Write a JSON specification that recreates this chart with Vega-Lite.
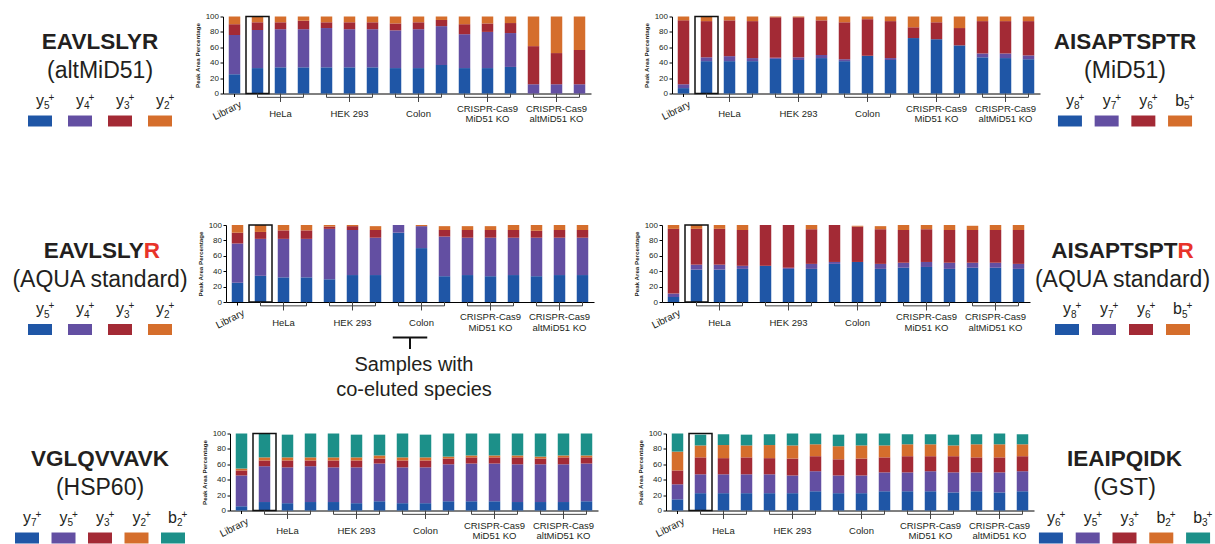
{
"$schema": "https://vega.github.io/schema/vega-lite/v6.json",
"padding": {"top": 12.5, "left": 0, "right": 0, "bottom": 0},
"background": "white",
"config": {"font": "Liberation Sans", "view": {"stroke": null},
  "axis": {"labelFont": "Liberation Sans", "titleFont": "Liberation Sans", "labelColor": "#231F20", "titleColor": "#231F20", "domainColor": "#000", "tickColor": "#000"},
  "axisY": {"tickCount": 10, "labelExpr": "datum.value % 20 === 0 ? datum.label : ''", "labelOverlap": false, "labelFontSize": 8, "labelPadding": 1.5, "tickSize": 3, "titleFontSize": 6.2, "titleFontWeight": "bold", "titlePadding": 5, "grid": false},
  "axisX": {"labels": false, "tickSize": 3},
  "text": {"color": "#231F20"}},
"datasets": {
 "groups": [
  {"a": "HeLa 1", "m": "HeLa 2", "b": "HeLa 3", "t": "HeLa"},
  {"a": "HEK 1", "m": "HEK 2", "b": "HEK 3", "t": "HEK 293"},
  {"a": "Colon 1", "m": "Colon 2", "b": "Colon 3", "t": "Colon"},
  {"a": "MiD51 KO 1", "m": "MiD51 KO 2", "b": "MiD51 KO 3", "t": "CRISPR-Cas9\nMiD51 KO"},
  {"a": "altMiD51 KO 1", "m": "altMiD51 KO 2", "b": "altMiD51 KO 3", "t": "CRISPR-Cas9\naltMiD51 KO"}],
 "lA": [{"k": "p1", "b": "y", "n": "5"}, {"k": "p2", "b": "y", "n": "4"}, {"k": "p3", "b": "y", "n": "3"}, {"k": "p4", "b": "y", "n": "2"}],
 "lB": [{"k": "p1", "b": "y", "n": "8"}, {"k": "p2", "b": "y", "n": "7"}, {"k": "p3", "b": "y", "n": "6"}, {"k": "p4", "b": "b", "n": "5"}],
 "lC": [{"k": "p1", "b": "y", "n": "7"}, {"k": "p2", "b": "y", "n": "5"}, {"k": "p3", "b": "y", "n": "3"}, {"k": "p4", "b": "y", "n": "2"}, {"k": "p5", "b": "b", "n": "2"}],
 "lD": [{"k": "p1", "b": "y", "n": "6"}, {"k": "p2", "b": "y", "n": "5"}, {"k": "p3", "b": "y", "n": "3"}, {"k": "p4", "b": "b", "n": "2"}, {"k": "p5", "b": "b", "n": "3"}],
 "c1": [
  {"s": "Library", "p1": 25, "p2": 51, "p3": 14, "p4": 10},
  {"s": "HeLa 1", "p1": 33, "p2": 49.5, "p3": 10, "p4": 7.5},
  {"s": "HeLa 2", "p1": 34, "p2": 49.5, "p3": 9, "p4": 7.5},
  {"s": "HeLa 3", "p1": 34, "p2": 49.5, "p3": 11, "p4": 5.5},
  {"s": "HEK 1", "p1": 34, "p2": 51, "p3": 7.5, "p4": 7.5},
  {"s": "HEK 2", "p1": 34, "p2": 49.5, "p3": 9, "p4": 7.5},
  {"s": "HEK 3", "p1": 34, "p2": 49.5, "p3": 9, "p4": 7.5},
  {"s": "Colon 1", "p1": 33, "p2": 49, "p3": 9, "p4": 9},
  {"s": "Colon 2", "p1": 33, "p2": 50.5, "p3": 9, "p4": 7.5},
  {"s": "Colon 3", "p1": 37, "p2": 50.5, "p3": 8, "p4": 4.5},
  {"s": "MiD51 KO 1", "p1": 33, "p2": 44, "p3": 13, "p4": 10},
  {"s": "MiD51 KO 2", "p1": 33, "p2": 47, "p3": 11, "p4": 9},
  {"s": "MiD51 KO 3", "p1": 34.5, "p2": 44, "p3": 13, "p4": 8.5},
  {"s": "altMiD51 KO 1", "p1": 0, "p2": 12, "p3": 49.5, "p4": 38.5},
  {"s": "altMiD51 KO 2", "p1": 0, "p2": 12, "p3": 40.5, "p4": 47.5},
  {"s": "altMiD51 KO 3", "p1": 0, "p2": 12, "p3": 44.5, "p4": 43.5}],
 "c2": [
  {"s": "Library", "p1": 7, "p2": 5, "p3": 83, "p4": 5},
  {"s": "HeLa 1", "p1": 42, "p2": 5, "p3": 47, "p4": 6},
  {"s": "HeLa 2", "p1": 42, "p2": 6.5, "p3": 46.5, "p4": 5},
  {"s": "HeLa 3", "p1": 42, "p2": 4, "p3": 48, "p4": 6},
  {"s": "HEK 1", "p1": 45, "p2": 1.5, "p3": 52.5, "p4": 1},
  {"s": "HEK 2", "p1": 43.5, "p2": 3.5, "p3": 52, "p4": 1},
  {"s": "HEK 3", "p1": 46, "p2": 4, "p3": 45, "p4": 5},
  {"s": "Colon 1", "p1": 42, "p2": 2.5, "p3": 48, "p4": 7.5},
  {"s": "Colon 2", "p1": 49, "p2": 0, "p3": 47.5, "p4": 3.5},
  {"s": "Colon 3", "p1": 43.5, "p2": 2.5, "p3": 48, "p4": 6},
  {"s": "MiD51 KO 1", "p1": 72, "p2": 0, "p3": 14, "p4": 14},
  {"s": "MiD51 KO 2", "p1": 70.5, "p2": 0, "p3": 22, "p4": 7.5},
  {"s": "MiD51 KO 3", "p1": 62.5, "p2": 0, "p3": 22.5, "p4": 15},
  {"s": "altMiD51 KO 1", "p1": 47, "p2": 5, "p3": 42, "p4": 6},
  {"s": "altMiD51 KO 2", "p1": 46, "p2": 6, "p3": 42, "p4": 6},
  {"s": "altMiD51 KO 3", "p1": 44.5, "p2": 5, "p3": 44.5, "p4": 6}],
 "c3": [
  {"s": "Library", "p1": 25, "p2": 51, "p3": 14, "p4": 10},
  {"s": "HeLa 1", "p1": 34, "p2": 48, "p3": 9, "p4": 9},
  {"s": "HeLa 2", "p1": 32, "p2": 50, "p3": 11, "p4": 7},
  {"s": "HeLa 3", "p1": 32, "p2": 50, "p3": 11, "p4": 7},
  {"s": "HEK 1", "p1": 29.5, "p2": 65.5, "p3": 3, "p4": 2},
  {"s": "HEK 2", "p1": 35, "p2": 58.5, "p3": 5, "p4": 1.5},
  {"s": "HEK 3", "p1": 35, "p2": 48.5, "p3": 10, "p4": 5},
  {"s": "Colon 1", "p1": 90, "p2": 10, "p3": 0, "p4": 0},
  {"s": "Colon 2", "p1": 70, "p2": 28.5, "p3": 0, "p4": 1.5},
  {"s": "Colon 3", "p1": 33.5, "p2": 51.5, "p3": 8.5, "p4": 5},
  {"s": "MiD51 KO 1", "p1": 35, "p2": 48.5, "p3": 10, "p4": 5},
  {"s": "MiD51 KO 2", "p1": 33.5, "p2": 50, "p3": 10, "p4": 5},
  {"s": "MiD51 KO 3", "p1": 35, "p2": 48.5, "p3": 10, "p4": 6.5},
  {"s": "altMiD51 KO 1", "p1": 33.5, "p2": 50, "p3": 9, "p4": 7.5},
  {"s": "altMiD51 KO 2", "p1": 35, "p2": 48.5, "p3": 10, "p4": 6.5},
  {"s": "altMiD51 KO 3", "p1": 35, "p2": 48.5, "p3": 10, "p4": 6.5}],
 "c4": [
  {"s": "Library", "p1": 6.5, "p2": 4.5, "p3": 84, "p4": 5},
  {"s": "HeLa 1", "p1": 42, "p2": 6.5, "p3": 46.5, "p4": 5},
  {"s": "HeLa 2", "p1": 42, "p2": 6.5, "p3": 46.5, "p4": 5},
  {"s": "HeLa 3", "p1": 43, "p2": 4, "p3": 46.5, "p4": 6.5},
  {"s": "HEK 1", "p1": 47, "p2": 0, "p3": 53, "p4": 0},
  {"s": "HEK 2", "p1": 43, "p2": 1.5, "p3": 55.5, "p4": 0},
  {"s": "HEK 3", "p1": 43, "p2": 6.5, "p3": 45, "p4": 5.5},
  {"s": "Colon 1", "p1": 49.5, "p2": 2.5, "p3": 48, "p4": 0},
  {"s": "Colon 2", "p1": 52, "p2": 0, "p3": 46, "p4": 1},
  {"s": "Colon 3", "p1": 43, "p2": 6.5, "p3": 45, "p4": 4},
  {"s": "MiD51 KO 1", "p1": 44.5, "p2": 6.5, "p3": 42.5, "p4": 6.5},
  {"s": "MiD51 KO 2", "p1": 45.5, "p2": 6.5, "p3": 42.5, "p4": 5.5},
  {"s": "MiD51 KO 3", "p1": 43, "p2": 8, "p3": 42.5, "p4": 6.5},
  {"s": "altMiD51 KO 1", "p1": 44.5, "p2": 6.5, "p3": 42.5, "p4": 5.5},
  {"s": "altMiD51 KO 2", "p1": 44.5, "p2": 6.5, "p3": 42.5, "p4": 6.5},
  {"s": "altMiD51 KO 3", "p1": 43, "p2": 6.5, "p3": 44, "p4": 6.5}],
 "c5": [
  {"s": "Library", "p1": 5.5, "p2": 40, "p3": 6.5, "p4": 2.5, "p5": 45.5},
  {"s": "HeLa 1", "p1": 11, "p2": 46.5, "p3": 7.5, "p4": 4, "p5": 31},
  {"s": "HeLa 2", "p1": 9.5, "p2": 46.5, "p3": 9, "p4": 4, "p5": 29.5},
  {"s": "HeLa 3", "p1": 11, "p2": 46.5, "p3": 7.5, "p4": 4, "p5": 31},
  {"s": "HEK 1", "p1": 11, "p2": 45, "p3": 9, "p4": 4, "p5": 31},
  {"s": "HEK 2", "p1": 9.5, "p2": 46.5, "p3": 9, "p4": 4, "p5": 29.5},
  {"s": "HEK 3", "p1": 12, "p2": 49, "p3": 6.5, "p4": 4, "p5": 27},
  {"s": "Colon 1", "p1": 9.5, "p2": 46.5, "p3": 9, "p4": 4, "p5": 31},
  {"s": "Colon 2", "p1": 9.5, "p2": 46.5, "p3": 9, "p4": 4, "p5": 29.5},
  {"s": "Colon 3", "p1": 12, "p2": 48, "p3": 7.5, "p4": 2.5, "p5": 30},
  {"s": "MiD51 KO 1", "p1": 12, "p2": 49, "p3": 8, "p4": 2.5, "p5": 28.5},
  {"s": "MiD51 KO 2", "p1": 12, "p2": 49, "p3": 8, "p4": 2.5, "p5": 28.5},
  {"s": "MiD51 KO 3", "p1": 11, "p2": 49, "p3": 9, "p4": 2.5, "p5": 28.5},
  {"s": "altMiD51 KO 1", "p1": 11, "p2": 49, "p3": 7.5, "p4": 2.5, "p5": 30},
  {"s": "altMiD51 KO 2", "p1": 11, "p2": 49, "p3": 9, "p4": 2.5, "p5": 28.5},
  {"s": "altMiD51 KO 3", "p1": 12, "p2": 49, "p3": 8, "p4": 2.5, "p5": 28.5}],
 "c6": [
  {"s": "Library", "p1": 14.5, "p2": 19.5, "p3": 18, "p4": 24.5, "p5": 23.5},
  {"s": "HeLa 1", "p1": 22.5, "p2": 24.5, "p3": 22, "p4": 15.5, "p5": 14},
  {"s": "HeLa 2", "p1": 22.5, "p2": 24.5, "p3": 21, "p4": 17, "p5": 14},
  {"s": "HeLa 3", "p1": 22.5, "p2": 24.5, "p3": 22, "p4": 15.5, "p5": 14},
  {"s": "HEK 1", "p1": 22.5, "p2": 24.5, "p3": 21, "p4": 17, "p5": 14},
  {"s": "HEK 2", "p1": 22.5, "p2": 23, "p3": 22, "p4": 17, "p5": 15.5},
  {"s": "HEK 3", "p1": 25, "p2": 26, "p3": 19.5, "p4": 15.5, "p5": 14},
  {"s": "Colon 1", "p1": 22.5, "p2": 23, "p3": 21, "p4": 17, "p5": 15},
  {"s": "Colon 2", "p1": 22.5, "p2": 23, "p3": 22, "p4": 17, "p5": 15.5},
  {"s": "Colon 3", "p1": 25, "p2": 24.5, "p3": 19.5, "p4": 15.5, "p5": 15.5},
  {"s": "MiD51 KO 1", "p1": 25, "p2": 24.5, "p3": 21, "p4": 15.5, "p5": 13},
  {"s": "MiD51 KO 2", "p1": 25, "p2": 26, "p3": 19.5, "p4": 15.5, "p5": 13},
  {"s": "MiD51 KO 3", "p1": 23.5, "p2": 26, "p3": 21, "p4": 14, "p5": 14},
  {"s": "altMiD51 KO 1", "p1": 25, "p2": 24.5, "p3": 19.5, "p4": 17, "p5": 13},
  {"s": "altMiD51 KO 2", "p1": 23.5, "p2": 26, "p3": 19.5, "p4": 17, "p5": 14},
  {"s": "altMiD51 KO 3", "p1": 25, "p2": 26, "p3": 19.5, "p4": 15.5, "p5": 13}]
},
"bounds": "flush",
"spacing": 208.5,
"vconcat": [
 {"hconcat": [
  {"width": 200, "height": 77, "layer": [
   {"data": {"values": [{"t": "EAVLSLYR"}]}, "mark": {"type": "text", "fontSize": 22.5, "fontWeight": "bold", "baseline": "middle", "dy": -13}, "encoding": {"text": {"field": "t"}}},
   {"data": {"values": [{"t": "(altMiD51)"}]}, "mark": {"type": "text", "fontSize": 23, "baseline": "middle", "dy": 16}, "encoding": {"text": {"field": "t"}}},
   {"data": {"name": "lA"}, "mark": {"type": "text", "fontSize": 16, "align": "right", "baseline": "alphabetic", "dx": 4, "dy": 50.5}, "encoding": {"x": {"field": "k", "type": "nominal", "scale": {"type": "point", "domain": ["p1", "p2", "p3", "p4"], "padding": 1.2}, "axis": null}, "text": {"field": "b"}}},
   {"data": {"name": "lA"}, "mark": {"type": "text", "fontSize": 10, "align": "left", "baseline": "alphabetic", "dx": 4, "dy": 54}, "encoding": {"x": {"field": "k", "type": "nominal", "axis": null}, "text": {"field": "n"}}},
   {"data": {"name": "lA"}, "mark": {"type": "text", "fontSize": 10, "align": "left", "baseline": "alphabetic", "dx": 8.5, "dy": 45.5}, "encoding": {"x": {"field": "k", "type": "nominal", "axis": null}, "text": {"value": "+"}}},
   {"data": {"name": "lA"}, "mark": {"type": "point", "shape": "M-1,5.042H1V5.958H-1Z", "size": 576, "filled": true, "opacity": 1, "strokeWidth": 0}, "encoding": {"x": {"field": "k", "type": "nominal", "axis": null}, "color": {"field": "k", "type": "nominal", "scale": {"domain": ["p1", "p2", "p3", "p4", "p5"], "range": ["#1F56A6", "#634FA2", "#A32A35", "#D56E2C", "#1C9089"]}, "legend": null}}}
  ]},
  {"width": 23, "height": 77, "data": {"values": [{}]}, "mark": "text", "encoding": {"text": {"value": ""}}},
  {"width": 368, "height": 77, "layer": [
   {"data": {"name": "c1"}, "transform": [{"fold": ["p1", "p2", "p3", "p4"], "as": ["k", "v"]}], "mark": {"type": "bar"}, "encoding": {
     "x": {"field": "s", "type": "nominal", "title": null, "scale": {"domain": ["Library", "HeLa 1", "HeLa 2", "HeLa 3", "HEK 1", "HEK 2", "HEK 3", "Colon 1", "Colon 2", "Colon 3", "MiD51 KO 1", "MiD51 KO 2", "MiD51 KO 3", "altMiD51 KO 1", "altMiD51 KO 2", "altMiD51 KO 3"], "paddingInner": 0.5, "paddingOuter": 0.25}},
     "y": {"field": "v", "type": "quantitative", "stack": "zero", "title": "Peak Area Percentage", "scale": {"domain": [0, 100], "nice": false}, "axis": {"values": [0, 10, 20, 30, 40, 50, 60, 70, 80, 90, 100], "labelOverlap": false}},
     "color": {"field": "k", "type": "nominal", "scale": {"domain": ["p1", "p2", "p3", "p4", "p5"], "range": ["#1F56A6", "#634FA2", "#A32A35", "#D56E2C", "#1C9089"]}, "legend": null},
     "order": {"field": "k", "sort": "ascending"}}},
   {"data": {"values": [{"s": "HeLa 1"}]}, "mark": {"type": "bar", "width": {"band": 2}, "filled": false, "stroke": "#111", "strokeWidth": 1.5}, "encoding": {"x": {"field": "s", "type": "nominal"}, "y": {"datum": 100}, "y2": {"datum": 0}}},
   {"data": {"name": "groups"}, "mark": {"type": "rule", "color": "#444"}, "encoding": {"x": {"field": "a", "type": "nominal"}, "x2": {"field": "b"}, "y": {"datum": -5}}},
   {"data": {"name": "groups"}, "transform": [{"fold": ["a", "b"], "as": ["e", "s"]}], "mark": {"type": "rule", "color": "#444"}, "encoding": {"x": {"field": "s", "type": "nominal"}, "y": {"datum": 0}, "y2": {"datum": -5}}},
   {"data": {"name": "groups"}, "mark": {"type": "rule", "color": "#444"}, "encoding": {"x": {"field": "m", "type": "nominal"}, "y": {"datum": 0}, "y2": {"datum": -11}}},
   {"data": {"name": "groups"}, "transform": [{"filter": "indexof(datum.t, 'CRISPR') < 0"}], "mark": {"type": "text", "fontSize": 9.5, "baseline": "middle", "dy": 20.5}, "encoding": {"x": {"field": "m", "type": "nominal"}, "y": {"datum": 0}, "text": {"field": "t"}}},
   {"data": {"name": "groups"}, "transform": [{"filter": "indexof(datum.t, 'CRISPR') >= 0"}], "mark": {"type": "text", "fontSize": 9.5, "lineBreak": "\n", "lineHeight": 10.5, "baseline": "middle", "dy": 15}, "encoding": {"x": {"field": "m", "type": "nominal"}, "y": {"datum": 0}, "text": {"field": "t"}}},
   {"data": {"values": [{"s": "Library"}]}, "mark": {"type": "text", "fontSize": 10, "angle": -27, "align": "right", "baseline": "top", "dx": 1, "dy": 7}, "encoding": {"x": {"field": "s", "type": "nominal"}, "y": {"datum": 0}, "text": {"field": "s"}}}
  ]},
  {"width": 81, "height": 77, "data": {"values": [{}]}, "mark": "text", "encoding": {"text": {"value": ""}}},
  {"width": 368, "height": 77, "layer": [
   {"data": {"name": "c2"}, "transform": [{"fold": ["p1", "p2", "p3", "p4"], "as": ["k", "v"]}], "mark": {"type": "bar"}, "encoding": {
     "x": {"field": "s", "type": "nominal", "title": null, "scale": {"domain": ["Library", "HeLa 1", "HeLa 2", "HeLa 3", "HEK 1", "HEK 2", "HEK 3", "Colon 1", "Colon 2", "Colon 3", "MiD51 KO 1", "MiD51 KO 2", "MiD51 KO 3", "altMiD51 KO 1", "altMiD51 KO 2", "altMiD51 KO 3"], "paddingInner": 0.5, "paddingOuter": 0.25}},
     "y": {"field": "v", "type": "quantitative", "stack": "zero", "title": "Peak Area Percentage", "scale": {"domain": [0, 100], "nice": false}, "axis": {"values": [0, 10, 20, 30, 40, 50, 60, 70, 80, 90, 100], "labelOverlap": false}},
     "color": {"field": "k", "type": "nominal", "scale": {"domain": ["p1", "p2", "p3", "p4", "p5"], "range": ["#1F56A6", "#634FA2", "#A32A35", "#D56E2C", "#1C9089"]}, "legend": null},
     "order": {"field": "k", "sort": "ascending"}}},
   {"data": {"values": [{"s": "HeLa 1"}]}, "mark": {"type": "bar", "width": {"band": 2}, "filled": false, "stroke": "#111", "strokeWidth": 1.5}, "encoding": {"x": {"field": "s", "type": "nominal"}, "y": {"datum": 100}, "y2": {"datum": 0}}},
   {"data": {"name": "groups"}, "mark": {"type": "rule", "color": "#444"}, "encoding": {"x": {"field": "a", "type": "nominal"}, "x2": {"field": "b"}, "y": {"datum": -5}}},
   {"data": {"name": "groups"}, "transform": [{"fold": ["a", "b"], "as": ["e", "s"]}], "mark": {"type": "rule", "color": "#444"}, "encoding": {"x": {"field": "s", "type": "nominal"}, "y": {"datum": 0}, "y2": {"datum": -5}}},
   {"data": {"name": "groups"}, "mark": {"type": "rule", "color": "#444"}, "encoding": {"x": {"field": "m", "type": "nominal"}, "y": {"datum": 0}, "y2": {"datum": -11}}},
   {"data": {"name": "groups"}, "transform": [{"filter": "indexof(datum.t, 'CRISPR') < 0"}], "mark": {"type": "text", "fontSize": 9.5, "baseline": "middle", "dy": 20.5}, "encoding": {"x": {"field": "m", "type": "nominal"}, "y": {"datum": 0}, "text": {"field": "t"}}},
   {"data": {"name": "groups"}, "transform": [{"filter": "indexof(datum.t, 'CRISPR') >= 0"}], "mark": {"type": "text", "fontSize": 9.5, "lineBreak": "\n", "lineHeight": 10.5, "baseline": "middle", "dy": 15}, "encoding": {"x": {"field": "m", "type": "nominal"}, "y": {"datum": 0}, "text": {"field": "t"}}},
   {"data": {"values": [{"s": "Library"}]}, "mark": {"type": "text", "fontSize": 10, "angle": -27, "align": "right", "baseline": "top", "dx": 1, "dy": 7}, "encoding": {"x": {"field": "s", "type": "nominal"}, "y": {"datum": 0}, "text": {"field": "s"}}}
  ]},
  {"width": 170, "height": 77, "layer": [
   {"data": {"values": [{"t": "AISAPTSPTR"}]}, "mark": {"type": "text", "fontSize": 22.5, "fontWeight": "bold", "baseline": "middle", "dy": -13}, "encoding": {"text": {"field": "t"}}},
   {"data": {"values": [{"t": "(MiD51)"}]}, "mark": {"type": "text", "fontSize": 23, "baseline": "middle", "dy": 16}, "encoding": {"text": {"field": "t"}}},
   {"data": {"name": "lB"}, "mark": {"type": "text", "fontSize": 16, "align": "right", "baseline": "alphabetic", "dx": 4, "dy": 50.5}, "encoding": {"x": {"field": "k", "type": "nominal", "scale": {"type": "point", "domain": ["p1", "p2", "p3", "p4"], "padding": 0.816}, "axis": null}, "text": {"field": "b"}}},
   {"data": {"name": "lB"}, "mark": {"type": "text", "fontSize": 10, "align": "left", "baseline": "alphabetic", "dx": 4, "dy": 54}, "encoding": {"x": {"field": "k", "type": "nominal", "axis": null}, "text": {"field": "n"}}},
   {"data": {"name": "lB"}, "mark": {"type": "text", "fontSize": 10, "align": "left", "baseline": "alphabetic", "dx": 8.5, "dy": 45.5}, "encoding": {"x": {"field": "k", "type": "nominal", "axis": null}, "text": {"value": "+"}}},
   {"data": {"name": "lB"}, "mark": {"type": "point", "shape": "M-1,5.042H1V5.958H-1Z", "size": 576, "filled": true, "opacity": 1, "strokeWidth": 0}, "encoding": {"x": {"field": "k", "type": "nominal", "axis": null}, "color": {"field": "k", "type": "nominal", "scale": {"domain": ["p1", "p2", "p3", "p4", "p5"], "range": ["#1F56A6", "#634FA2", "#A32A35", "#D56E2C", "#1C9089"]}, "legend": null}}}
  ]}
 ], "spacing": 0, "bounds": "flush"},
 {"hconcat": [
  {"width": 200, "height": 77, "layer": [
   {"data": {"values": [{"t": "EAVLSLY"}]}, "mark": {"type": "text", "fontSize": 22.5, "fontWeight": "bold", "baseline": "middle", "align": "right", "dx": 43.8, "dy": -13}, "encoding": {"text": {"field": "t"}}},
   {"data": {"values": [{"t": "R"}]}, "mark": {"type": "text", "fontSize": 22.5, "fontWeight": "bold", "baseline": "middle", "align": "left", "dx": 43.8, "dy": -13, "color": "#E8332A"}, "encoding": {"text": {"field": "t"}}},
   {"data": {"values": [{"t": "(AQUA standard)"}]}, "mark": {"type": "text", "fontSize": 23, "baseline": "middle", "dy": 16}, "encoding": {"text": {"field": "t"}}},
   {"data": {"name": "lA"}, "mark": {"type": "text", "fontSize": 16, "align": "right", "baseline": "alphabetic", "dx": 4, "dy": 50.5}, "encoding": {"x": {"field": "k", "type": "nominal", "scale": {"type": "point", "domain": ["p1", "p2", "p3", "p4"], "padding": 1.2}, "axis": null}, "text": {"field": "b"}}},
   {"data": {"name": "lA"}, "mark": {"type": "text", "fontSize": 10, "align": "left", "baseline": "alphabetic", "dx": 4, "dy": 54}, "encoding": {"x": {"field": "k", "type": "nominal", "axis": null}, "text": {"field": "n"}}},
   {"data": {"name": "lA"}, "mark": {"type": "text", "fontSize": 10, "align": "left", "baseline": "alphabetic", "dx": 8.5, "dy": 45.5}, "encoding": {"x": {"field": "k", "type": "nominal", "axis": null}, "text": {"value": "+"}}},
   {"data": {"name": "lA"}, "mark": {"type": "point", "shape": "M-1,5.042H1V5.958H-1Z", "size": 576, "filled": true, "opacity": 1, "strokeWidth": 0}, "encoding": {"x": {"field": "k", "type": "nominal", "axis": null}, "color": {"field": "k", "type": "nominal", "scale": {"domain": ["p1", "p2", "p3", "p4", "p5"], "range": ["#1F56A6", "#634FA2", "#A32A35", "#D56E2C", "#1C9089"]}, "legend": null}}}
  ]},
  {"width": 26, "height": 77, "data": {"values": [{}]}, "mark": "text", "encoding": {"text": {"value": ""}}},
  {"width": 368, "height": 77, "layer": [
   {"data": {"name": "c3"}, "transform": [{"fold": ["p1", "p2", "p3", "p4"], "as": ["k", "v"]}], "mark": {"type": "bar"}, "encoding": {
     "x": {"field": "s", "type": "nominal", "title": null, "scale": {"domain": ["Library", "HeLa 1", "HeLa 2", "HeLa 3", "HEK 1", "HEK 2", "HEK 3", "Colon 1", "Colon 2", "Colon 3", "MiD51 KO 1", "MiD51 KO 2", "MiD51 KO 3", "altMiD51 KO 1", "altMiD51 KO 2", "altMiD51 KO 3"], "paddingInner": 0.5, "paddingOuter": 0.25}},
     "y": {"field": "v", "type": "quantitative", "stack": "zero", "title": "Peak Area Percentage", "scale": {"domain": [0, 100], "nice": false}, "axis": {"values": [0, 10, 20, 30, 40, 50, 60, 70, 80, 90, 100], "labelOverlap": false}},
     "color": {"field": "k", "type": "nominal", "scale": {"domain": ["p1", "p2", "p3", "p4", "p5"], "range": ["#1F56A6", "#634FA2", "#A32A35", "#D56E2C", "#1C9089"]}, "legend": null},
     "order": {"field": "k", "sort": "ascending"}}},
   {"data": {"values": [{"s": "HeLa 1"}]}, "mark": {"type": "bar", "width": {"band": 2}, "filled": false, "stroke": "#111", "strokeWidth": 1.5}, "encoding": {"x": {"field": "s", "type": "nominal"}, "y": {"datum": 100}, "y2": {"datum": 0}}},
   {"data": {"name": "groups"}, "mark": {"type": "rule", "color": "#444"}, "encoding": {"x": {"field": "a", "type": "nominal"}, "x2": {"field": "b"}, "y": {"datum": -5}}},
   {"data": {"name": "groups"}, "transform": [{"fold": ["a", "b"], "as": ["e", "s"]}], "mark": {"type": "rule", "color": "#444"}, "encoding": {"x": {"field": "s", "type": "nominal"}, "y": {"datum": 0}, "y2": {"datum": -5}}},
   {"data": {"name": "groups"}, "mark": {"type": "rule", "color": "#444"}, "encoding": {"x": {"field": "m", "type": "nominal"}, "y": {"datum": 0}, "y2": {"datum": -11}}},
   {"data": {"name": "groups"}, "transform": [{"filter": "indexof(datum.t, 'CRISPR') < 0"}], "mark": {"type": "text", "fontSize": 9.5, "baseline": "middle", "dy": 20.5}, "encoding": {"x": {"field": "m", "type": "nominal"}, "y": {"datum": 0}, "text": {"field": "t"}}},
   {"data": {"name": "groups"}, "transform": [{"filter": "indexof(datum.t, 'CRISPR') >= 0"}], "mark": {"type": "text", "fontSize": 9.5, "lineBreak": "\n", "lineHeight": 10.5, "baseline": "middle", "dy": 15}, "encoding": {"x": {"field": "m", "type": "nominal"}, "y": {"datum": 0}, "text": {"field": "t"}}},
   {"data": {"values": [{"s": "Library"}]}, "mark": {"type": "text", "fontSize": 10, "angle": -27, "align": "right", "baseline": "top", "dx": 1, "dy": 7}, "encoding": {"x": {"field": "s", "type": "nominal"}, "y": {"datum": 0}, "text": {"field": "s"}}},
   {"data": {"values": [{"a": "Colon 1", "b": "Colon 2"}]}, "mark": {"type": "rule", "color": "#111", "strokeWidth": 2}, "encoding": {"x": {"field": "a", "type": "nominal", "bandPosition": 0}, "x2": {"field": "b", "bandPosition": 1}, "y": {"datum": -46}}},
   {"data": {"values": [{"a": "Colon 1", "b": "Colon 2"}]}, "mark": {"type": "rule", "color": "#111", "strokeWidth": 2}, "encoding": {"x": {"field": "a", "type": "nominal", "bandPosition": 1.5}, "y": {"datum": -46}, "y2": {"datum": -61}}},
   {"data": {"values": [{"a": "Colon 1", "t": "Samples with\nco-eluted species"}]}, "mark": {"type": "text", "fontSize": 20, "lineBreak": "\n", "lineHeight": 25, "baseline": "middle", "dx": 4, "dy": 63}, "encoding": {"x": {"field": "a", "type": "nominal", "bandPosition": 1.5}, "y": {"datum": 0}, "text": {"field": "t"}}}
  ]},
  {"width": 68, "height": 77, "data": {"values": [{}]}, "mark": "text", "encoding": {"text": {"value": ""}}},
  {"width": 368, "height": 77, "layer": [
   {"data": {"name": "c4"}, "transform": [{"fold": ["p1", "p2", "p3", "p4"], "as": ["k", "v"]}], "mark": {"type": "bar"}, "encoding": {
     "x": {"field": "s", "type": "nominal", "title": null, "scale": {"domain": ["Library", "HeLa 1", "HeLa 2", "HeLa 3", "HEK 1", "HEK 2", "HEK 3", "Colon 1", "Colon 2", "Colon 3", "MiD51 KO 1", "MiD51 KO 2", "MiD51 KO 3", "altMiD51 KO 1", "altMiD51 KO 2", "altMiD51 KO 3"], "paddingInner": 0.5, "paddingOuter": 0.25}},
     "y": {"field": "v", "type": "quantitative", "stack": "zero", "title": "Peak Area Percentage", "scale": {"domain": [0, 100], "nice": false}, "axis": {"values": [0, 10, 20, 30, 40, 50, 60, 70, 80, 90, 100], "labelOverlap": false}},
     "color": {"field": "k", "type": "nominal", "scale": {"domain": ["p1", "p2", "p3", "p4", "p5"], "range": ["#1F56A6", "#634FA2", "#A32A35", "#D56E2C", "#1C9089"]}, "legend": null},
     "order": {"field": "k", "sort": "ascending"}}},
   {"data": {"values": [{"s": "HeLa 1"}]}, "mark": {"type": "bar", "width": {"band": 2}, "filled": false, "stroke": "#111", "strokeWidth": 1.5}, "encoding": {"x": {"field": "s", "type": "nominal"}, "y": {"datum": 100}, "y2": {"datum": 0}}},
   {"data": {"name": "groups"}, "mark": {"type": "rule", "color": "#444"}, "encoding": {"x": {"field": "a", "type": "nominal"}, "x2": {"field": "b"}, "y": {"datum": -5}}},
   {"data": {"name": "groups"}, "transform": [{"fold": ["a", "b"], "as": ["e", "s"]}], "mark": {"type": "rule", "color": "#444"}, "encoding": {"x": {"field": "s", "type": "nominal"}, "y": {"datum": 0}, "y2": {"datum": -5}}},
   {"data": {"name": "groups"}, "mark": {"type": "rule", "color": "#444"}, "encoding": {"x": {"field": "m", "type": "nominal"}, "y": {"datum": 0}, "y2": {"datum": -11}}},
   {"data": {"name": "groups"}, "transform": [{"filter": "indexof(datum.t, 'CRISPR') < 0"}], "mark": {"type": "text", "fontSize": 9.5, "baseline": "middle", "dy": 20.5}, "encoding": {"x": {"field": "m", "type": "nominal"}, "y": {"datum": 0}, "text": {"field": "t"}}},
   {"data": {"name": "groups"}, "transform": [{"filter": "indexof(datum.t, 'CRISPR') >= 0"}], "mark": {"type": "text", "fontSize": 9.5, "lineBreak": "\n", "lineHeight": 10.5, "baseline": "middle", "dy": 15}, "encoding": {"x": {"field": "m", "type": "nominal"}, "y": {"datum": 0}, "text": {"field": "t"}}},
   {"data": {"values": [{"s": "Library"}]}, "mark": {"type": "text", "fontSize": 10, "angle": -27, "align": "right", "baseline": "top", "dx": 1, "dy": 7}, "encoding": {"x": {"field": "s", "type": "nominal"}, "y": {"datum": 0}, "text": {"field": "s"}}}
  ]},
  {"width": 185, "height": 77, "layer": [
   {"data": {"values": [{"t": "AISAPTSPT"}]}, "mark": {"type": "text", "fontSize": 22.5, "fontWeight": "bold", "baseline": "middle", "align": "right", "dx": 55, "dy": -13}, "encoding": {"text": {"field": "t"}}},
   {"data": {"values": [{"t": "R"}]}, "mark": {"type": "text", "fontSize": 22.5, "fontWeight": "bold", "baseline": "middle", "align": "left", "dx": 55, "dy": -13, "color": "#E8332A"}, "encoding": {"text": {"field": "t"}}},
   {"data": {"values": [{"t": "(AQUA standard)"}]}, "mark": {"type": "text", "fontSize": 23, "baseline": "middle", "dy": 16}, "encoding": {"text": {"field": "t"}}},
   {"data": {"name": "lB"}, "mark": {"type": "text", "fontSize": 16, "align": "right", "baseline": "alphabetic", "dx": 4, "dy": 50.5}, "encoding": {"x": {"field": "k", "type": "nominal", "scale": {"type": "point", "domain": ["p1", "p2", "p3", "p4"], "padding": 1}, "axis": null}, "text": {"field": "b"}}},
   {"data": {"name": "lB"}, "mark": {"type": "text", "fontSize": 10, "align": "left", "baseline": "alphabetic", "dx": 4, "dy": 54}, "encoding": {"x": {"field": "k", "type": "nominal", "axis": null}, "text": {"field": "n"}}},
   {"data": {"name": "lB"}, "mark": {"type": "text", "fontSize": 10, "align": "left", "baseline": "alphabetic", "dx": 8.5, "dy": 45.5}, "encoding": {"x": {"field": "k", "type": "nominal", "axis": null}, "text": {"value": "+"}}},
   {"data": {"name": "lB"}, "mark": {"type": "point", "shape": "M-1,5.042H1V5.958H-1Z", "size": 576, "filled": true, "opacity": 1, "strokeWidth": 0}, "encoding": {"x": {"field": "k", "type": "nominal", "axis": null}, "color": {"field": "k", "type": "nominal", "scale": {"domain": ["p1", "p2", "p3", "p4", "p5"], "range": ["#1F56A6", "#634FA2", "#A32A35", "#D56E2C", "#1C9089"]}, "legend": null}}}
  ]}
 ], "spacing": 0, "bounds": "flush"},
 {"hconcat": [
  {"width": 200, "height": 77, "layer": [
   {"data": {"values": [{"t": "VGLQVVAVK"}]}, "mark": {"type": "text", "fontSize": 22.5, "fontWeight": "bold", "baseline": "middle", "dy": -13}, "encoding": {"text": {"field": "t"}}},
   {"data": {"values": [{"t": "(HSP60)"}]}, "mark": {"type": "text", "fontSize": 23, "baseline": "middle", "dy": 16}, "encoding": {"text": {"field": "t"}}},
   {"data": {"name": "lC"}, "mark": {"type": "text", "fontSize": 16, "align": "right", "baseline": "alphabetic", "dx": 4, "dy": 50.5}, "encoding": {"x": {"field": "k", "type": "nominal", "scale": {"type": "point", "domain": ["p1", "p2", "p3", "p4", "p5"], "padding": 0.74}, "axis": null}, "text": {"field": "b"}}},
   {"data": {"name": "lC"}, "mark": {"type": "text", "fontSize": 10, "align": "left", "baseline": "alphabetic", "dx": 4, "dy": 54}, "encoding": {"x": {"field": "k", "type": "nominal", "axis": null}, "text": {"field": "n"}}},
   {"data": {"name": "lC"}, "mark": {"type": "text", "fontSize": 10, "align": "left", "baseline": "alphabetic", "dx": 8.5, "dy": 45.5}, "encoding": {"x": {"field": "k", "type": "nominal", "axis": null}, "text": {"value": "+"}}},
   {"data": {"name": "lC"}, "mark": {"type": "point", "shape": "M-1,5.042H1V5.958H-1Z", "size": 576, "filled": true, "opacity": 1, "strokeWidth": 0}, "encoding": {"x": {"field": "k", "type": "nominal", "axis": null}, "color": {"field": "k", "type": "nominal", "scale": {"domain": ["p1", "p2", "p3", "p4", "p5"], "range": ["#1F56A6", "#634FA2", "#A32A35", "#D56E2C", "#1C9089"]}, "legend": null}}}
  ]},
  {"width": 30, "height": 77, "data": {"values": [{}]}, "mark": "text", "encoding": {"text": {"value": ""}}},
  {"width": 368, "height": 77, "layer": [
   {"data": {"name": "c5"}, "transform": [{"fold": ["p1", "p2", "p3", "p4", "p5"], "as": ["k", "v"]}], "mark": {"type": "bar"}, "encoding": {
     "x": {"field": "s", "type": "nominal", "title": null, "scale": {"domain": ["Library", "HeLa 1", "HeLa 2", "HeLa 3", "HEK 1", "HEK 2", "HEK 3", "Colon 1", "Colon 2", "Colon 3", "MiD51 KO 1", "MiD51 KO 2", "MiD51 KO 3", "altMiD51 KO 1", "altMiD51 KO 2", "altMiD51 KO 3"], "paddingInner": 0.5, "paddingOuter": 0.25}},
     "y": {"field": "v", "type": "quantitative", "stack": "zero", "title": "Peak Area Percentage", "scale": {"domain": [0, 100], "nice": false}, "axis": {"values": [0, 10, 20, 30, 40, 50, 60, 70, 80, 90, 100], "labelOverlap": false}},
     "color": {"field": "k", "type": "nominal", "scale": {"domain": ["p1", "p2", "p3", "p4", "p5"], "range": ["#1F56A6", "#634FA2", "#A32A35", "#D56E2C", "#1C9089"]}, "legend": null},
     "order": {"field": "k", "sort": "ascending"}}},
   {"data": {"values": [{"s": "HeLa 1"}]}, "mark": {"type": "bar", "width": {"band": 2}, "filled": false, "stroke": "#111", "strokeWidth": 1.5}, "encoding": {"x": {"field": "s", "type": "nominal"}, "y": {"datum": 100}, "y2": {"datum": 0}}},
   {"data": {"name": "groups"}, "mark": {"type": "rule", "color": "#444"}, "encoding": {"x": {"field": "a", "type": "nominal"}, "x2": {"field": "b"}, "y": {"datum": -5}}},
   {"data": {"name": "groups"}, "transform": [{"fold": ["a", "b"], "as": ["e", "s"]}], "mark": {"type": "rule", "color": "#444"}, "encoding": {"x": {"field": "s", "type": "nominal"}, "y": {"datum": 0}, "y2": {"datum": -5}}},
   {"data": {"name": "groups"}, "mark": {"type": "rule", "color": "#444"}, "encoding": {"x": {"field": "m", "type": "nominal"}, "y": {"datum": 0}, "y2": {"datum": -11}}},
   {"data": {"name": "groups"}, "transform": [{"filter": "indexof(datum.t, 'CRISPR') < 0"}], "mark": {"type": "text", "fontSize": 9.5, "baseline": "middle", "dy": 20.5}, "encoding": {"x": {"field": "m", "type": "nominal"}, "y": {"datum": 0}, "text": {"field": "t"}}},
   {"data": {"name": "groups"}, "transform": [{"filter": "indexof(datum.t, 'CRISPR') >= 0"}], "mark": {"type": "text", "fontSize": 9.5, "lineBreak": "\n", "lineHeight": 10.5, "baseline": "middle", "dy": 15}, "encoding": {"x": {"field": "m", "type": "nominal"}, "y": {"datum": 0}, "text": {"field": "t"}}},
   {"data": {"values": [{"s": "Library"}]}, "mark": {"type": "text", "fontSize": 10, "angle": -27, "align": "right", "baseline": "top", "dx": 1, "dy": 7}, "encoding": {"x": {"field": "s", "type": "nominal"}, "y": {"datum": 0}, "text": {"field": "s"}}}
  ]},
  {"width": 68, "height": 77, "data": {"values": [{}]}, "mark": "text", "encoding": {"text": {"value": ""}}},
  {"width": 368, "height": 77, "layer": [
   {"data": {"name": "c6"}, "transform": [{"fold": ["p1", "p2", "p3", "p4", "p5"], "as": ["k", "v"]}], "mark": {"type": "bar"}, "encoding": {
     "x": {"field": "s", "type": "nominal", "title": null, "scale": {"domain": ["Library", "HeLa 1", "HeLa 2", "HeLa 3", "HEK 1", "HEK 2", "HEK 3", "Colon 1", "Colon 2", "Colon 3", "MiD51 KO 1", "MiD51 KO 2", "MiD51 KO 3", "altMiD51 KO 1", "altMiD51 KO 2", "altMiD51 KO 3"], "paddingInner": 0.5, "paddingOuter": 0.25}},
     "y": {"field": "v", "type": "quantitative", "stack": "zero", "title": "Peak Area Percentage", "scale": {"domain": [0, 100], "nice": false}, "axis": {"values": [0, 10, 20, 30, 40, 50, 60, 70, 80, 90, 100], "labelOverlap": false}},
     "color": {"field": "k", "type": "nominal", "scale": {"domain": ["p1", "p2", "p3", "p4", "p5"], "range": ["#1F56A6", "#634FA2", "#A32A35", "#D56E2C", "#1C9089"]}, "legend": null},
     "order": {"field": "k", "sort": "ascending"}}},
   {"data": {"values": [{"s": "HeLa 1"}]}, "mark": {"type": "bar", "width": {"band": 2}, "filled": false, "stroke": "#111", "strokeWidth": 1.5}, "encoding": {"x": {"field": "s", "type": "nominal"}, "y": {"datum": 100}, "y2": {"datum": 0}}},
   {"data": {"name": "groups"}, "mark": {"type": "rule", "color": "#444"}, "encoding": {"x": {"field": "a", "type": "nominal"}, "x2": {"field": "b"}, "y": {"datum": -5}}},
   {"data": {"name": "groups"}, "transform": [{"fold": ["a", "b"], "as": ["e", "s"]}], "mark": {"type": "rule", "color": "#444"}, "encoding": {"x": {"field": "s", "type": "nominal"}, "y": {"datum": 0}, "y2": {"datum": -5}}},
   {"data": {"name": "groups"}, "mark": {"type": "rule", "color": "#444"}, "encoding": {"x": {"field": "m", "type": "nominal"}, "y": {"datum": 0}, "y2": {"datum": -11}}},
   {"data": {"name": "groups"}, "transform": [{"filter": "indexof(datum.t, 'CRISPR') < 0"}], "mark": {"type": "text", "fontSize": 9.5, "baseline": "middle", "dy": 20.5}, "encoding": {"x": {"field": "m", "type": "nominal"}, "y": {"datum": 0}, "text": {"field": "t"}}},
   {"data": {"name": "groups"}, "transform": [{"filter": "indexof(datum.t, 'CRISPR') >= 0"}], "mark": {"type": "text", "fontSize": 9.5, "lineBreak": "\n", "lineHeight": 10.5, "baseline": "middle", "dy": 15}, "encoding": {"x": {"field": "m", "type": "nominal"}, "y": {"datum": 0}, "text": {"field": "t"}}},
   {"data": {"values": [{"s": "Library"}]}, "mark": {"type": "text", "fontSize": 10, "angle": -27, "align": "right", "baseline": "top", "dx": 1, "dy": 7}, "encoding": {"x": {"field": "s", "type": "nominal"}, "y": {"datum": 0}, "text": {"field": "s"}}}
  ]},
  {"width": 181, "height": 77, "layer": [
   {"data": {"values": [{"t": "IEAIPQIDK"}]}, "mark": {"type": "text", "fontSize": 22.5, "fontWeight": "bold", "baseline": "middle", "dy": -13}, "encoding": {"text": {"field": "t"}}},
   {"data": {"values": [{"t": "(GST)"}]}, "mark": {"type": "text", "fontSize": 23, "baseline": "middle", "dy": 16}, "encoding": {"text": {"field": "t"}}},
   {"data": {"name": "lD"}, "mark": {"type": "text", "fontSize": 16, "align": "right", "baseline": "alphabetic", "dx": 4, "dy": 50.5}, "encoding": {"x": {"field": "k", "type": "nominal", "scale": {"type": "point", "domain": ["p1", "p2", "p3", "p4", "p5"], "padding": 0.46}, "axis": null}, "text": {"field": "b"}}},
   {"data": {"name": "lD"}, "mark": {"type": "text", "fontSize": 10, "align": "left", "baseline": "alphabetic", "dx": 4, "dy": 54}, "encoding": {"x": {"field": "k", "type": "nominal", "axis": null}, "text": {"field": "n"}}},
   {"data": {"name": "lD"}, "mark": {"type": "text", "fontSize": 10, "align": "left", "baseline": "alphabetic", "dx": 8.5, "dy": 45.5}, "encoding": {"x": {"field": "k", "type": "nominal", "axis": null}, "text": {"value": "+"}}},
   {"data": {"name": "lD"}, "mark": {"type": "point", "shape": "M-1,5.042H1V5.958H-1Z", "size": 576, "filled": true, "opacity": 1, "strokeWidth": 0}, "encoding": {"x": {"field": "k", "type": "nominal", "axis": null}, "color": {"field": "k", "type": "nominal", "scale": {"domain": ["p1", "p2", "p3", "p4", "p5"], "range": ["#1F56A6", "#634FA2", "#A32A35", "#D56E2C", "#1C9089"]}, "legend": null}}}
  ]}
 ], "spacing": 0, "bounds": "flush"}
]
}
